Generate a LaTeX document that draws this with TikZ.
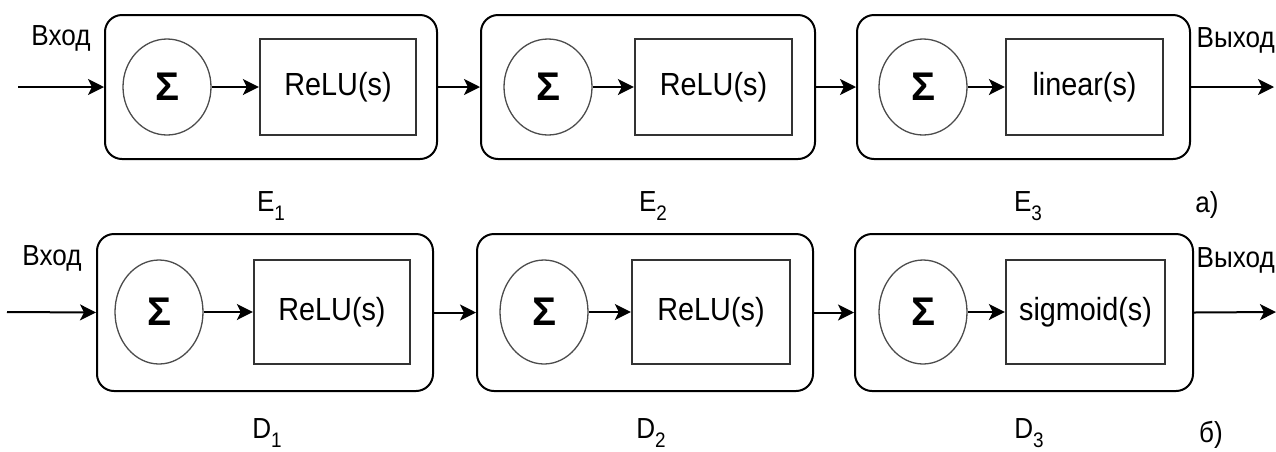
\documentclass[tikz,border=0pt]{standalone}
\usepackage{fontspec}
\setmainfont{Liberation Sans}
\newfontfamily\narrowsans{Liberation Sans}[FakeStretch=0.9]
\usetikzlibrary{arrows.meta,shapes.geometric}

\begin{document}
\begin{tikzpicture}[x=1pt,y=-1pt,
  layerbox/.style={draw=black, line width=2pt, rounded corners=17pt,
    minimum height=144pt, inner sep=0pt},
  sumnode/.style={draw=black!70, line width=1.3pt, ellipse, inner sep=0pt,
    minimum width=88pt, minimum height=96pt,
    font=\fontsize{40}{42}\selectfont\bfseries},
  actnode/.style={draw=black!80, line width=2.3pt, rectangle, inner sep=0pt,
    minimum height=96pt, font=\fontsize{32}{38}\selectfont\narrowsans},
  caption/.style={font=\fontsize{29}{32}\selectfont\narrowsans, inner sep=0pt},
  iolabel/.style={font=\fontsize{29}{35}\selectfont\narrowsans, inner sep=0pt},
  arr/.style={line width=2pt, -{Stealth[length=16pt,width=16pt,inset=4pt]}}
]
\useasboundingbox (0,0) rectangle (1276,451);
\newcommand{\lsub}[2]{#1\raisebox{-0.32em}{\fontsize{21}{21}\selectfont #2}}

% ---------- encoder (a) ----------
\node[layerbox, minimum width=332pt] (e1) at (271,87) {};
\node[layerbox, minimum width=334pt] (e2) at (648,87) {};
\node[layerbox, minimum width=333pt] (e3) at (1023.5,87) {};

\node[sumnode] (es1) at (167,87) {Σ};
\node[sumnode] (es2) at (548,87) {Σ};
\node[sumnode] (es3) at (923,87) {Σ};

\node[actnode, minimum width=156pt] (ea1) at (338,87) {ReLU(s)};
\node[actnode, minimum width=157pt] (ea2) at (713.5,87) {ReLU(s)};
\node[actnode, minimum width=157pt] (ea3) at (1084.5,87) {linear(s)};

\coordinate (ein) at (18,87);
\coordinate (eout) at (1274,87);

\draw[arr] (ein) -- (e1.west);
\draw[arr] (es1.east) -- (ea1.west);
\draw[arr] (e1.east) -- (e2.west);
\draw[arr] (es2.east) -- (ea2.west);
\draw[arr] (e2.east) -- (e3.west);
\draw[arr] (es3.east) -- (ea3.west);
\draw[arr] (e3.east) -- (eout);

\node[iolabel] (einl) at (61,38) {Вход};
\node[iolabel, anchor=east] (eoutl) at (1275,40) {Выход};

\node[caption] (ec1) at (271,206) {\lsub{E}{1}};
\node[caption] (ec2) at (653,206) {\lsub{E}{2}};
\node[caption] (ec3) at (1028,206) {\lsub{E}{3}};
\node[caption] (ecap) at (1207,205) {а)};

% ---------- decoder (б) ----------
\node[layerbox, minimum width=336pt, minimum height=157pt] (d1) at (265,312.5) {};
\node[layerbox, minimum width=336pt, minimum height=157pt] (d2) at (645,312.5) {};
\node[layerbox, minimum width=338pt, minimum height=157pt] (d3) at (1024,312.5) {};

\node[sumnode, minimum height=104pt] (ds1) at (159,312) {Σ};
\node[sumnode, minimum height=104pt] (ds2) at (544,312) {Σ};
\node[sumnode, minimum height=104pt] (ds3) at (923,312) {Σ};

\node[actnode, minimum width=156pt, minimum height=104pt] (da1) at (332,312) {ReLU(s)};
\node[actnode, minimum width=158pt, minimum height=104pt] (da2) at (711,312) {ReLU(s)};
\node[actnode, minimum width=159pt, minimum height=104pt] (da3) at (1085.5,312) {sigmoid(s)};

\coordinate (din) at (7,312);
\coordinate (dout) at (1276,312);

\draw[arr] (din) -- (d1.west);
\draw[arr] (ds1.east) -- (da1.west);
\draw[arr] (d1.east) -- (d2.west);
\draw[arr] (ds2.east) -- (da2.west);
\draw[arr] (d2.east) -- (d3.west);
\draw[arr] (ds3.east) -- (da3.west);
\draw[arr] (d3.east) -- (dout);

\node[iolabel] (dinl) at (52,258) {Вход};
\node[iolabel, anchor=east] (doutl) at (1275,260) {Выход};

\node[caption] (dc1) at (267,433) {\lsub{D}{1}};
\node[caption] (dc2) at (651,433) {\lsub{D}{2}};
\node[caption] (dc3) at (1029,433) {\lsub{D}{3}};
\node[caption] (dcap) at (1211,435) {б)};
\end{tikzpicture}
\end{document}
